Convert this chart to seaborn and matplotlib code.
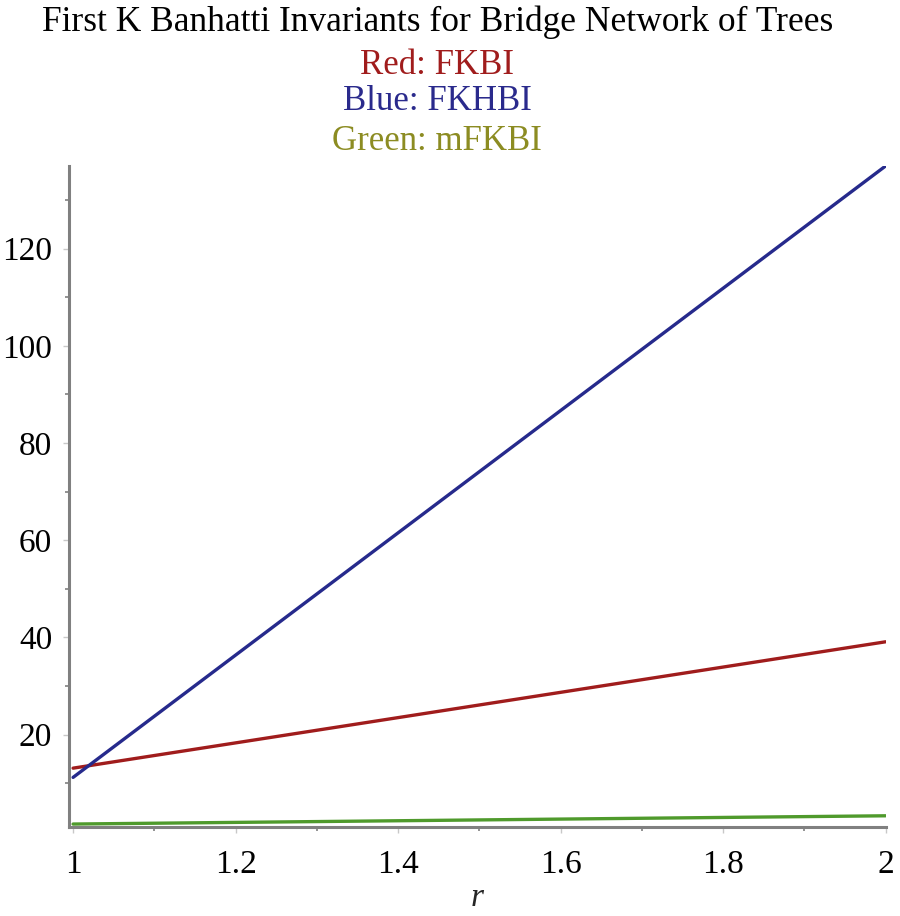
import numpy as np
import pandas as pd
import matplotlib.pyplot as plt
import seaborn as sns
from matplotlib.ticker import MultipleLocator

# valores
r = [1.0, 1.5, 2.0]
fkbi = [13.1, 26.1, 39.1]
fkhbi = [11.2, 74.1, 137.0]
mfkbi = [1.6, 2.45, 3.3]

df = pd.DataFrame({
    "r": r * 3,
    "valor": fkbi + fkhbi + mfkbi,
    "serie": ["FKBI"] * 3 + ["FKHBI"] * 3 + ["mFKBI"] * 3,
})

sns.set_style("white")
plt.rcParams['font.family'] = ['Liberation Serif', 'DejaVu Serif']

fig = plt.figure(figsize=(9, 9.16), dpi=100)
ax = fig.add_axes([0.0767, 0.0972, 0.9073, 0.7216])

cores = {"FKBI": "#a01c1c", "FKHBI": "#262a8c", "mFKBI": "#4f9a2c"}
sns.lineplot(data=df, x="r", y="valor", hue="serie", palette=cores,
             linewidth=2.4, legend=False, ax=ax)

ax.set_xlim(0.995, 2.0)
ax.set_ylim(1.0, 137.0)
ax.xaxis.set_major_locator(MultipleLocator(0.2))
ax.xaxis.set_minor_locator(MultipleLocator(0.1))
ax.yaxis.set_major_locator(MultipleLocator(20))
ax.yaxis.set_minor_locator(MultipleLocator(10))
ax.set_xticks([1, 1.2, 1.4, 1.6, 1.8, 2])
ax.set_xticklabels(["1", "1.2", "1.4", "1.6", "1.8", "2"])

for s in ["top", "right"]:
    ax.spines[s].set_visible(False)
for s in ["left", "bottom"]:
    ax.spines[s].set_color("#808080")
    ax.spines[s].set_linewidth(2.2)

ax.tick_params(which="both", bottom=True, left=True)
ax.tick_params(which="major", direction="out", length=4, width=1,
               color="#c8c8c8", labelsize=24, pad=8, labelcolor="black")
ax.tick_params(which="minor", direction="out", length=3, width=1.2,
               color="#808080")
ax.tick_params(axis="x", which="major", pad=12)

ax.set_xlabel("r", fontsize=24, style="italic", labelpad=2)
ax.set_ylabel("")

# titulo em varias linhas coloridas
cx = 0.486
fig.text(cx, 0.976, "First K Banhatti Invariants for Bridge Network of Trees",
         ha="center", va="center", fontsize=25.5, color="black")
fig.text(cx, 0.929, "Red: FKBI", ha="center", va="center", fontsize=25, color="#a01c1c")
fig.text(cx, 0.889, "Blue: FKHBI", ha="center", va="center", fontsize=25, color="#2a2a8c")
fig.text(cx, 0.846, "Green: mFKBI", ha="center", va="center", fontsize=25, color="#8c8c22")

fig.savefig("out.png", dpi=100)
